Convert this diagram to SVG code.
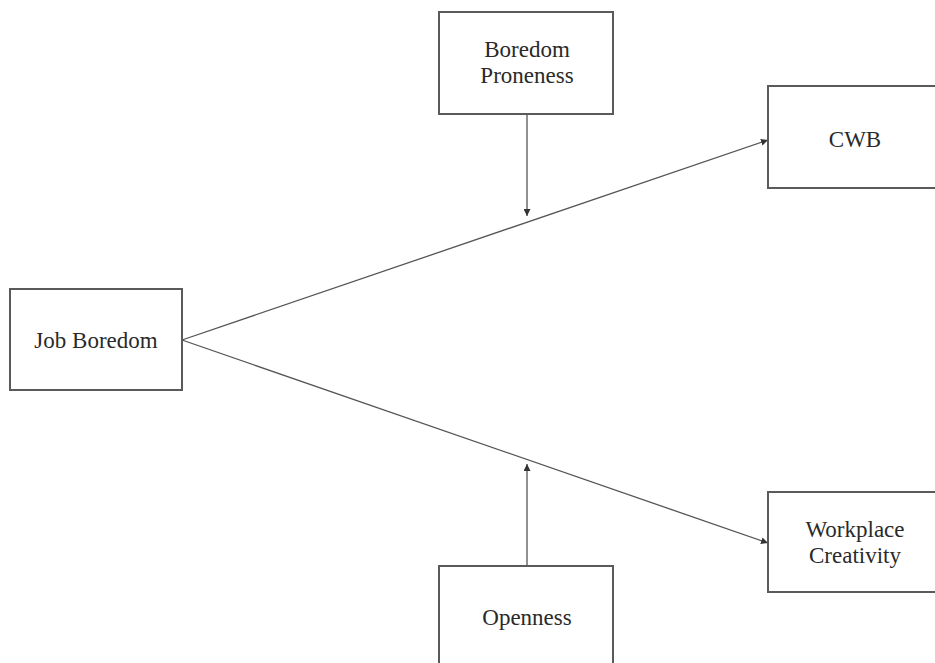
<svg xmlns="http://www.w3.org/2000/svg" width="935" height="663" viewBox="0 0 935 663">
<style>
.box{fill:#fff;stroke:#5a5a5a;stroke-width:2}
.t{font-family:"Liberation Serif","Times New Roman",serif;font-size:23px;fill:#2a2a2a;text-anchor:middle}
.c{stroke:#555;stroke-width:1.3;fill:none}
</style>
<defs>
<marker id="ah" viewBox="0 0 10 10" refX="10" refY="5" markerWidth="7" markerHeight="7" markerUnits="userSpaceOnUse" orient="auto">
<path d="M0,0 L10,5 L0,10 z" fill="#333"/>
</marker>
</defs>
<rect width="935" height="663" fill="#fff"/>
<g id="connectors">
<line class="c" x1="182" y1="340" x2="768" y2="140" marker-end="url(#ah)"/>
<line class="c" x1="182" y1="340" x2="768" y2="543" marker-end="url(#ah)"/>
<line class="c" x1="527" y1="114" x2="527" y2="216" marker-end="url(#ah)"/>
<line class="c" x1="527" y1="566" x2="527" y2="464" marker-end="url(#ah)"/>
</g>
<g id="job-boredom">
<rect class="box" x="10" y="289" width="172" height="101"/>
<text class="t" x="96" y="348">Job Boredom</text>
</g>
<g id="boredom-proneness">
<rect class="box" x="439" y="12" width="174" height="102"/>
<text class="t" x="527" y="57">Boredom</text>
<text class="t" x="527" y="83">Proneness</text>
</g>
<g id="cwb">
<rect class="box" x="768" y="86" width="180" height="102"/>
<text class="t" x="855" y="147">CWB</text>
</g>
<g id="workplace-creativity">
<rect class="box" x="768" y="492" width="180" height="100"/>
<text class="t" x="855" y="537">Workplace</text>
<text class="t" x="855" y="563">Creativity</text>
</g>
<g id="openness">
<rect class="box" x="439" y="566" width="174" height="110"/>
<text class="t" x="527" y="625">Openness</text>
</g>
</svg>
